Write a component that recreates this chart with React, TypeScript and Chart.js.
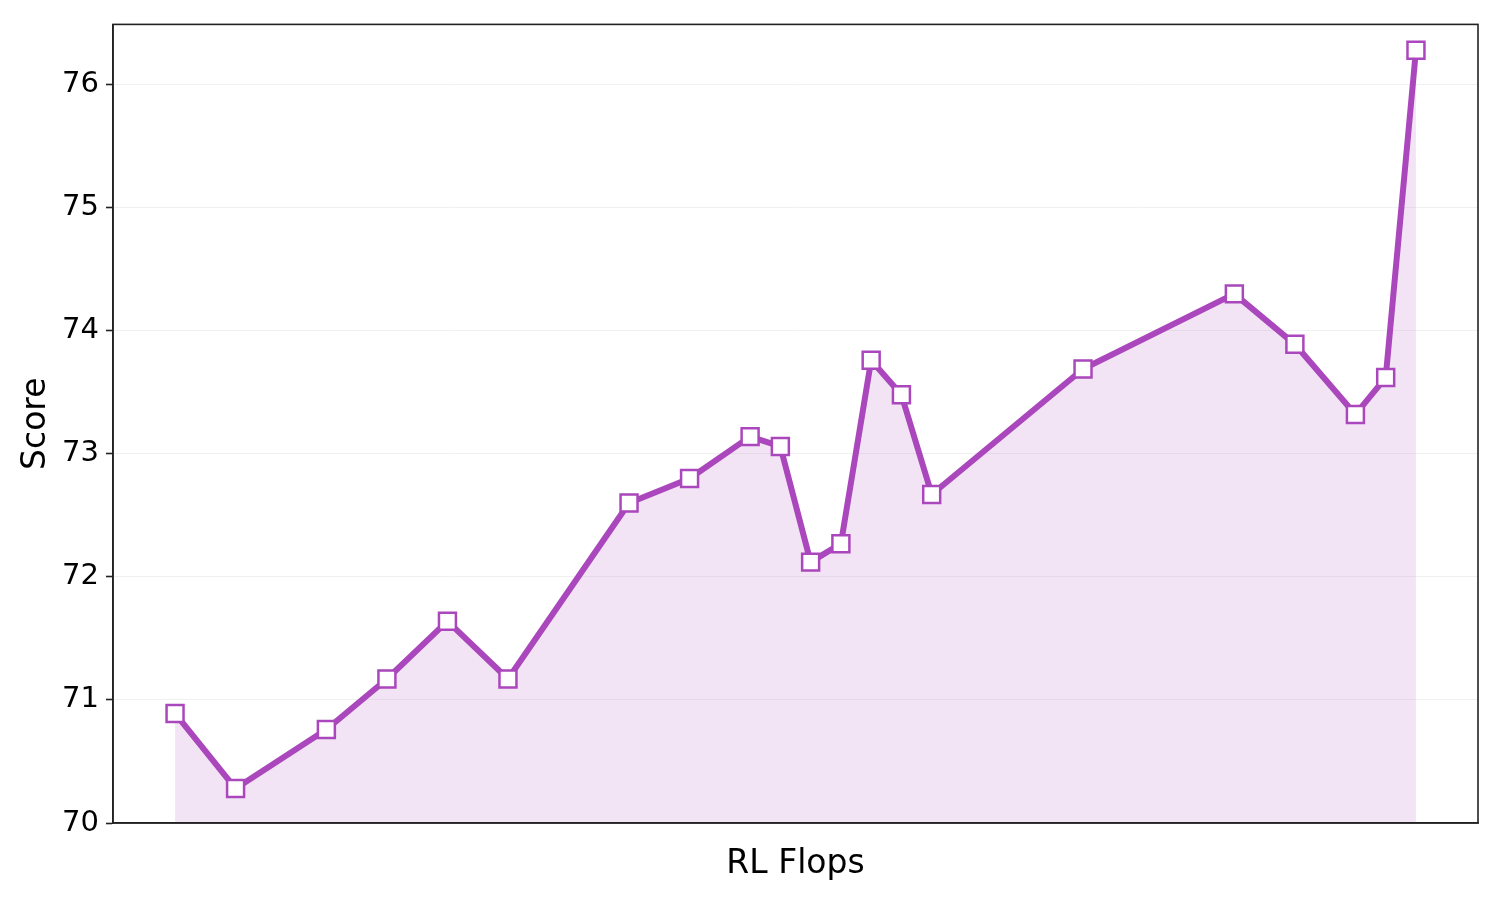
import React, { useEffect, useRef } from 'react';
import { Chart, registerables } from 'chart.js';

Chart.register(...registerables);

// RL Flops steps (position along the x axis, no tick labels shown)
const flopSteps = [0, 2, 5, 7, 9, 11, 15, 17, 19, 20, 21, 22, 23, 24, 25, 30, 35, 37, 39, 40, 41];
const scores = [
  70.89, 70.28, 70.76, 71.17, 71.64, 71.17, 72.6, 72.8, 73.14, 73.06, 72.12,
  72.27, 73.76, 73.48, 72.67, 73.69, 74.3, 73.89, 73.32, 73.62, 76.28,
];
const yTicks = [70, 71, 72, 73, 74, 75, 76];

const PURPLE = '#AB47BC';
const AXIS = '#222222';

const frameBox = {
  id: 'frameBox',
  afterDraw(chart: Chart) {
    const { ctx, chartArea } = chart;
    ctx.save();
    ctx.strokeStyle = AXIS;
    ctx.lineWidth = 1.6;
    ctx.strokeRect(chartArea.left, chartArea.top, chartArea.right - chartArea.left, chartArea.bottom - chartArea.top);
    ctx.restore();
  },
};

const App: React.FC = () => {
  const chartRef = useRef<HTMLCanvasElement>(null);
  const chartInstance = useRef<Chart | null>(null);

  useEffect(() => {
    document.body.style.margin = '0';
    if (!chartRef.current) return;
    if (chartInstance.current) chartInstance.current.destroy();

    const ctx = chartRef.current.getContext('2d');
    if (!ctx) return;

    chartInstance.current = new Chart(ctx, {
      type: 'line',
      data: {
        datasets: [
          {
            label: 'Score',
            data: flopSteps.map((x, i) => ({ x, y: scores[i] })),
            borderColor: PURPLE,
            backgroundColor: 'rgba(171, 71, 188, 0.15)',
            borderWidth: 6,
            borderJoinStyle: 'round',
            borderCapStyle: 'round',
            fill: 'start',
            tension: 0,
            pointStyle: 'rect',
            pointRadius: 12,
            pointBorderWidth: 2.5,
            pointBorderColor: PURPLE,
            pointBackgroundColor: '#FFFFFF',
          },
        ],
      },
      options: {
        responsive: false,
        animation: false,
        layout: { padding: { top: 23, right: 22, bottom: 0, left: 0 } },
        plugins: {
          legend: { display: false },
          tooltip: { enabled: false },
        },
        scales: {
          x: {
            type: 'linear',
            min: -2.05,
            max: 43.05,
            grid: { display: false, drawTicks: false },
            border: { display: true, color: AXIS, width: 1.6 },
            ticks: { display: false },
            title: {
              display: true,
              text: 'RL Flops',
              color: '#000',
              font: { family: 'DejaVu Sans', size: 33 },
              padding: { top: 0, bottom: 16 },
            },
            afterFit: (scale: any) => {
              scale.height = 77;
            },
          },
          y: {
            min: 70,
            max: 76.49,
            afterBuildTicks: (scale: any) => {
              scale.ticks = yTicks.map(v => ({ value: v }));
            },
            grid: {
              color: 'rgba(0, 0, 0, 0.06)',
              lineWidth: 1,
              tickColor: AXIS,
              tickWidth: 1.6,
              tickLength: 7,
            },
            border: { display: true, color: AXIS, width: 1.6 },
            ticks: {
              color: '#000',
              padding: 7,
              font: { family: 'DejaVu Sans', size: 29 },
            },
            title: {
              display: true,
              text: 'Score',
              color: '#000',
              font: { family: 'DejaVu Sans', size: 33 },
              padding: { top: 17, bottom: 0 },
            },
            afterFit: (scale: any) => {
              scale.width = 113;
            },
          },
        },
      },
      plugins: [frameBox],
    });

    return () => {
      if (chartInstance.current) {
        chartInstance.current.destroy();
        chartInstance.current = null;
      }
    };
  }, []);

  return (
    <div style={{ width: 1500, height: 900, background: '#fff' }}>
      <canvas ref={chartRef} width={1500} height={900}></canvas>
    </div>
  );
};

export default App;
